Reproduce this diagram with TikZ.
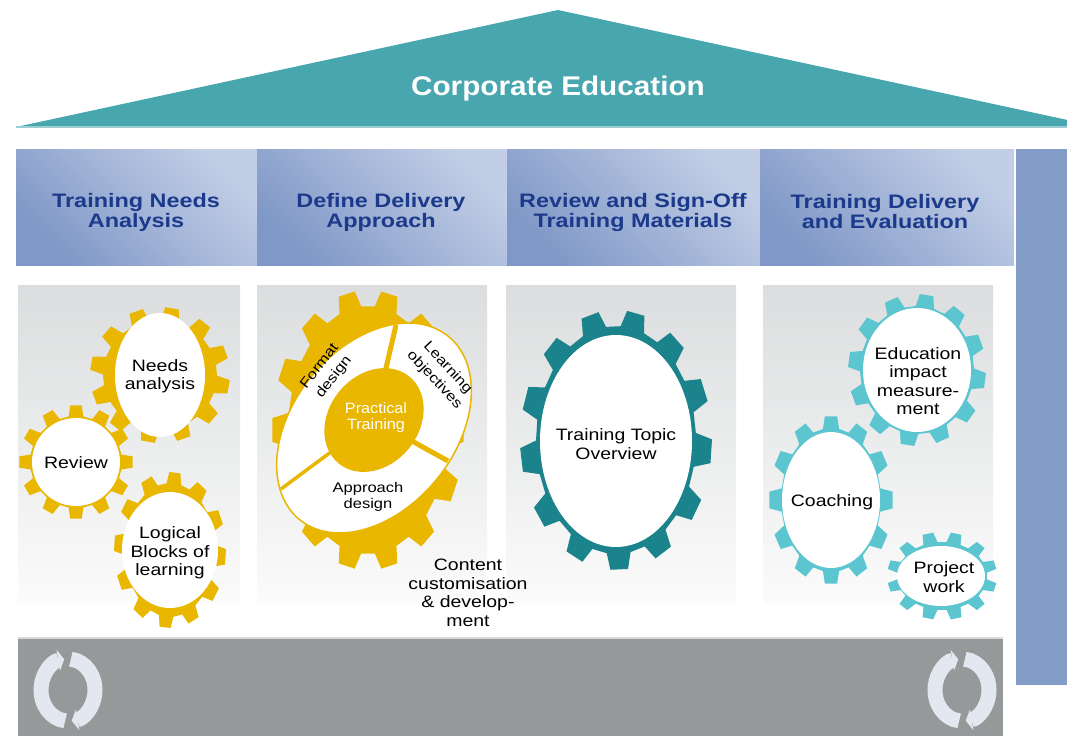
\documentclass[tikz,border=0pt]{standalone}
\usepackage{fontspec}
\setmainfont{Liberation Sans}
\usetikzlibrary{arrows.meta}

\definecolor{roofc}{HTML}{48A6AF}
\definecolor{hdark}{HTML}{8098C7}
\definecolor{hlight}{HTML}{C2CEE6}
\definecolor{hdtext}{HTML}{1B3A8B}
\definecolor{barc}{HTML}{839DC8}
\definecolor{panetop}{HTML}{DBDDDE}
\definecolor{panebot}{HTML}{FBFBFB}
\definecolor{basec}{HTML}{959999}
\definecolor{gold}{HTML}{E9B600}
\definecolor{tealdk}{HTML}{1A838B}
\definecolor{teallt}{HTML}{5BC5D0}
\definecolor{iconc}{HTML}{E3E7EF}

% cog: centre, root x radius, root y radius, tooth depth, teeth, turn, colour
\newcommand{\cog}[7]{%
  \pgfmathsetmacro{\cogstep}{360/#5}
  \fill[#7, shift={(#1)}] ({#2*cos(#6+0.31*\cogstep)},{#3*sin(#6+0.31*\cogstep)})
    \foreach \t [evaluate=\t as \ang using #6+\t*\cogstep] in {1,...,#5} {
      -- ({#2*cos(\ang-0.31*\cogstep)},{#3*sin(\ang-0.31*\cogstep)})
      -- ({(#2+#4)*cos(\ang-0.19*\cogstep)},{(#3+#4)*sin(\ang-0.19*\cogstep)})
      -- ({(#2+#4)*cos(\ang+0.19*\cogstep)},{(#3+#4)*sin(\ang+0.19*\cogstep)})
      -- ({#2*cos(\ang+0.31*\cogstep)},{#3*sin(\ang+0.31*\cogstep)})
    } -- cycle;}

\begin{document}
\begin{tikzpicture}[x=1pt, y=-1pt]
    \tikzstyle{hdr} = [font=\bfseries\fontsize{19.5}{20}\selectfont, text=hdtext, align=center, xscale=1.2]
    \tikzstyle{lbl} = [font=\fontsize{16.5}{18.5}\selectfont, align=center, xscale=1.18]
    \tikzstyle{seglbl} = [font=\fontsize{14}{15.5}\selectfont, align=center, xscale=1.18]
    \tikzstyle{turnlbl} = [font=\fontsize{14}{18}\selectfont, align=center, xscale=1.18]
    \tikzstyle{divider} = [gold, line width=5]
    \tikzstyle{recycle} = [iconc, line width=15, -{Triangle[width=21pt, length=6pt]}]
    \useasboundingbox (0,0) rectangle (1067,736);
    \clip (0,0) rectangle (1067,736);

    % roof
    \fill[roofc] (16,127) -- (558,10) -- (1100,127) -- cycle;
    \draw[roofc!55!white, line width=1.5] (16,127) -- (1067,127);
    \node[font=\bfseries\fontsize{27}{30}\selectfont, text=white, xscale=1.1] (title) at (558,89) {Corporate Education};

    % phase headers
    \foreach \xa/\xb in {16/257, 257/507, 507/760, 760/1014}
      \shade[top color=hlight, bottom color=hdark, shading angle=-45] (\xa,149) rectangle (\xb,265);
    \fill[barc] (1016,149) rectangle (1067,685);
    \node[hdr] (hdr1) at (136,212) {Training Needs\\Analysis};
    \node[hdr] (hdr2) at (381,212) {Define Delivery\\Approach};
    \node[hdr] (hdr3) at (633,212) {Review and Sign-Off\\Training Materials};
    \node[hdr] (hdr4) at (885,212) {Training Delivery\\and Evaluation};

    % panels and base
    \foreach \xa/\xb in {18/240, 257/487, 506/736, 763/993}
      \shade[top color=panetop, bottom color=panebot] (\xa,285) rectangle (\xb,602);
    \fill[basec] (18,638) rectangle (1003,736);
    \draw[gray!30, line width=1.5] (18,638) -- (1003,638);
    \foreach \cx in {68, 962} {
      \draw[recycle] (\cx,690) ++(96:27 and 31) arc[start angle=96, end angle=262, x radius=27, y radius=31];
      \draw[recycle] (\cx,690) ++(-84:27 and 31) arc[start angle=-84, end angle=82, x radius=27, y radius=31];
    }

    % training needs analysis
    \cog{160,375}{57}{55}{13}{12}{10}{gold}
    \cog{76,462}{46}{46}{11}{12}{0}{gold}
    \cog{170,550}{45}{67}{11}{12}{5}{gold}
    \fill[white] (160,375) ellipse [x radius=45, y radius=62];
    \fill[white] (76,462) ellipse [x radius=44, y radius=44];
    \fill[white] (170,550) ellipse [x radius=48, y radius=58];
    \node[lbl] (needs) at (160,376) {Needs\\analysis};
    \node[lbl] (review) at (76,463) {Review};
    \node[lbl] (blocks) at (170,553) {Logical\\Blocks of\\learning};

    % delivery approach
    \cog{368,430}{80}{124}{16}{14}{0}{gold}
    \fill[white, draw=gold, line width=1.5, rotate around={51:(374,428)}] (374,428) ellipse [x radius=118, y radius=81];
    \coordinate (hub) at (374,420);
    \coordinate (cut1) at (396,325);
    \coordinate (cut2) at (448,461);
    \coordinate (cut3) at (281,489);
    \draw[divider] (hub) -- (cut1);
    \draw[divider] (hub) -- (cut2);
    \draw[divider, line width=3.5] (hub) -- (cut3);
    \fill[gold, rotate around={51:(374,420)}] (374,420) ellipse [x radius=56, y radius=45];
    \node[font=\fontsize{15}{16}\selectfont, align=center, xscale=1.08, text=white] (practical) at (376,418) {Practical\\Training};
    \node[rotate=52, turnlbl] (format) at (327,372) {Format\\design};
    \node[rotate=-47, turnlbl] (objectives) at (441,374) {Learning\\objectives};
    \node[seglbl] (approach) at (368,497) {Approach\\design};
    \node[lbl] (content) at (468,593) {Content\\customisation\\\& develop-\\ment};

    % materials
    \cog{616,440}{80}{114}{16}{13}{5}{tealdk}
    \fill[white] (616,441) ellipse [x radius=76, y radius=106];
    \node[lbl] (topic) at (616,444) {Training Topic\\Overview};

    % delivery and evaluation
    \cog{917,370}{57}{64}{12}{12}{8}{teallt}
    \cog{831,500}{50}{72}{12}{12}{0}{teallt}
    \cog{942,576}{45}{34}{10}{12}{15}{teallt}
    \fill[white] (917,370) ellipse [x radius=54, y radius=62];
    \fill[white] (831,500) ellipse [x radius=49, y radius=68];
    \fill[white] (941,576) ellipse [x radius=44, y radius=30];
    \node[lbl] (impact) at (918,381) {Education\\impact\\measure-\\ment};
    \node[lbl] (coaching) at (832,502) {Coaching};
    \node[lbl] (project) at (944,577) {Project\\work};
\end{tikzpicture}
\end{document}
